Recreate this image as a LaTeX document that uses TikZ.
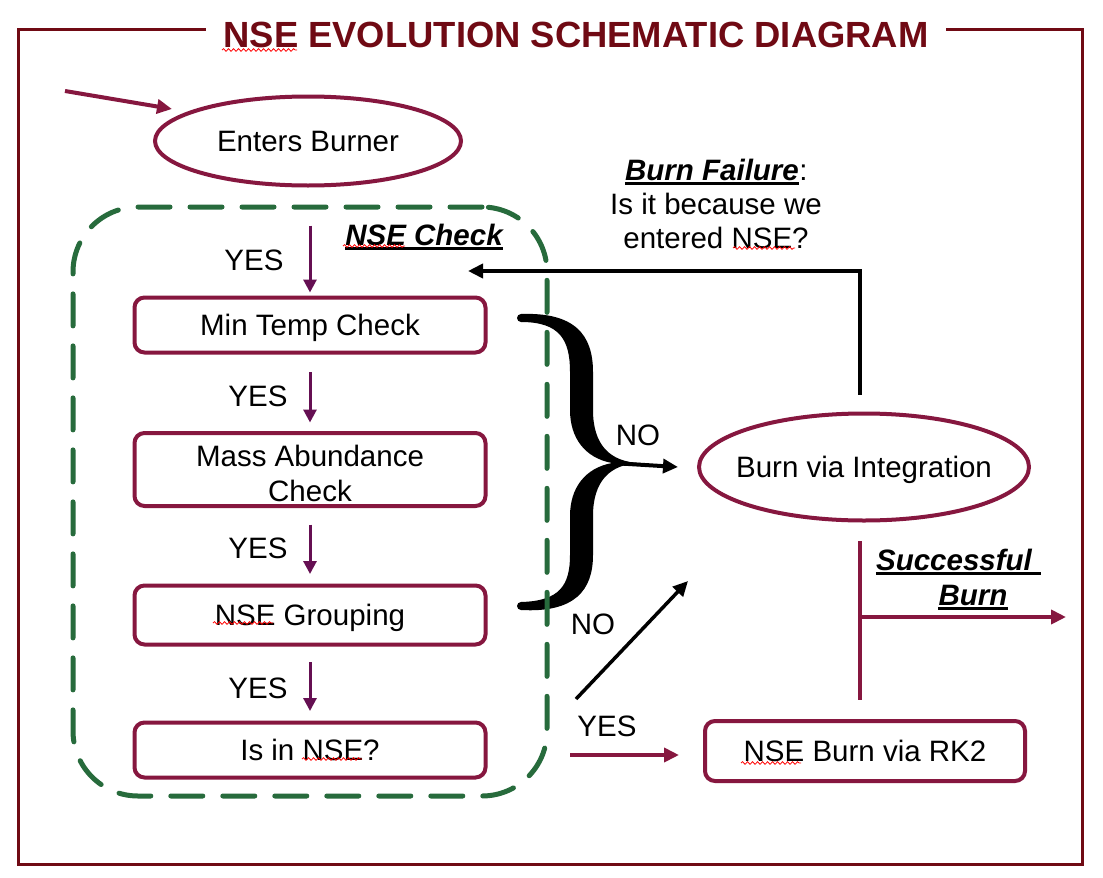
\documentclass[tikz,border=0pt]{standalone}
\usepackage{fontspec}
\setmainfont{Liberation Sans}
\usetikzlibrary{arrows.meta,shapes.geometric,decorations.pathmorphing}
\definecolor{framecol}{HTML}{700A14}
\definecolor{maroon}{HTML}{86173F}
\definecolor{purp}{HTML}{650F52}
\definecolor{dgreen}{HTML}{276B3C}
\tikzset{
  txt/.style={font=\fontsize{29.5}{35}\selectfont, inner sep=0pt, text height=21pt, text depth=0pt, align=center},
  bitxt/.style={txt, font=\fontsize{29.5}{35}\selectfont\bfseries\itshape},
  box/.style={txt, draw=maroon, line width=4pt, rounded corners=10pt, minimum width=351pt},
  oval/.style={ellipse, draw=maroon, line width=4pt, inner sep=0pt},
  parrow/.style={draw=purp, line width=3pt, -{Triangle[length=13pt,width=13pt]}},
  marrow/.style={draw=maroon, line width=4pt, -{Triangle[length=15pt,width=14pt]}},
  barrow/.style={draw=black, line width=4pt, -{Triangle[length=15pt,width=14pt]}},
  uline/.style={draw=black, line width=2.5pt},
  squig/.style={draw=red, line width=0.8pt, decorate, decoration={snake, segment length=5pt, amplitude=1.3pt}},
}
\begin{document}
\begin{tikzpicture}[x=1pt,y=-1pt]
\useasboundingbox[fill=white] (0,0) rectangle (1103,878);
% frame and title
\draw[framecol, line width=3pt] (18,29) rectangle (1082,864);
\node[fill=white, inner xsep=17.5pt, inner ysep=3pt, text height=26pt, text depth=0pt,
      font=\fontsize{36.4}{40}\selectfont\bfseries, text=framecol] (title) at (576,34) {NSE EVOLUTION SCHEMATIC DIAGRAM};

% brace
\fill[black] (521,314) .. controls (575,312) and (593,335) .. (593,372) -- (593,410)
  .. controls (593,445) and (610,462) .. (640,463)
  .. controls (610,464) and (593,481) .. (593,516) -- (593,555)
  .. controls (593,590) and (575,613) .. (521,610)
  -- (521,602) .. controls (560,601) and (570,585) .. (570,555) -- (570,516)
  .. controls (570,488) and (585,468) .. (612,463)
  .. controls (585,458) and (570,438) .. (570,410) -- (570,372)
  .. controls (570,340) and (560,322) .. (521,322) -- cycle;
\fill[black] (521,318) circle (4pt);
\fill[black] (521,606) circle (4pt);
\coordinate (bracetip) at (612,463);

% NSE check container
\node[draw=dgreen, line width=5pt, dash pattern=on 32pt off 20pt, line cap=round,
      rounded corners=65pt, minimum width=474pt, minimum height=589pt, inner sep=0pt] (nsebox) at (310,501.5) {};
\node[bitxt] (nsechk) at (424,235) {NSE Check};
\draw[uline] ([yshift=-3pt]nsechk.south west) -- ([yshift=-3pt]nsechk.south east);

% nodes
\node[oval, minimum width=306pt, minimum height=89pt] (enters) at (308,141) {};
\node[txt] (enterstxt) at (enters.center) {Enters Burner};
\node[box, minimum height=55pt] (mintemp) at (310,325) {Min Temp Check};
\node[box, minimum height=73pt, text height=64pt, text depth=0pt] (mass) at (310,469.5) {Mass Abundance\\Check};
\node[box, minimum height=59pt] (group) at (310,615) {NSE Grouping};
\node[box, minimum height=55pt] (isnse) at (310,750) {Is in NSE?};
\node[oval, minimum width=330pt, minimum height=107pt] (burnint) at (864,467) {};
\node[txt] (burninttxt) at (burnint.center) {Burn via Integration};
\node[box, minimum width=320pt, minimum height=60pt] (rk2) at (865,751) {NSE Burn via RK2};

% labels
\node[txt] (yes1) at (254,260) {YES};
\node[txt] (yes2) at (258,396) {YES};
\node[txt] (yes3) at (258,548) {YES};
\node[txt] (yes4) at (258,688) {YES};
\node[txt] (no1lbl) at (638,435) {NO};
\node[txt] (no2lbl) at (593,624) {NO};
\node[txt] (yes5) at (607,726) {YES};
\node[bitxt] (failhd) at (712,170) {Burn Failure};
\draw[uline] ([yshift=-3pt]failhd.south west) -- ([yshift=-3pt]failhd.south east);
\node[txt, anchor=south west] (colon) at (failhd.south east) {:};
\node[txt, font=\fontsize{29.5}{33.5}\selectfont, text height=54.5pt, text depth=0pt] (fail) at (716,220.75) {Is it because we\\entered NSE?};
\node[bitxt] (succ1) at (954,560) {Successful};
\draw[uline] ([yshift=-3pt]succ1.south west) -- ([xshift=9pt,yshift=-3pt]succ1.south east);
\node[bitxt] (succ2) at (973,595) {Burn};
\draw[uline] ([yshift=-3pt]succ2.south west) -- ([yshift=-3pt]succ2.south east);

% connectors
\coordinate (start) at (65,91);
\coordinate (startend) at (172,109);
\draw[marrow] (start) -- (startend);
\draw[parrow, shorten <=38pt, shorten >=3pt] (enters.south -| mintemp.north) -- (mintemp.north);
\draw[parrow, shorten <=17.5pt, shorten >=8.5pt] (mintemp.south) -- (mass.north);
\draw[parrow, shorten <=16.5pt, shorten >=9.5pt] (mass.south) -- (group.north);
\draw[parrow, shorten <=15.5pt, shorten >=9.5pt] (group.south) -- (isnse.north);

\coordinate (failend) at (468,271);
\draw[barrow] ([xshift=-4pt,yshift=17pt]burnint.north) |- (failend);
\draw[barrow] (bracetip) -- ([xshift=-19pt]burnint.west);

\coordinate (nostart) at (576,699);
\coordinate (noend) at (688,581);
\draw[barrow, line width=3.5pt] (nostart) -- (noend);

\coordinate (yesstart) at (570,755);
\draw[marrow] (yesstart) -- ([xshift=-24pt,yshift=-4pt]rk2.west);

\coordinate (sbtop) at (860,541);
\coordinate (sbbot) at (860,700);
\coordinate (sbmid) at (860,617);
\coordinate (sbend) at (1066,617);
\draw[maroon, line width=4pt] (sbtop) -- (sbbot);
\draw[marrow] (sbmid) -- (sbend);

% spell-check squiggles
\draw[squig] (222,50) -- (297,50);
\draw[squig] (343,246) -- (405,246);
\draw[squig] (733,248) -- (795,248);
\draw[squig] (213,623) -- (273,623);
\draw[squig] (302,759) -- (362,759);
\draw[squig] (741,763) -- (801,763);
\end{tikzpicture}
\end{document}
